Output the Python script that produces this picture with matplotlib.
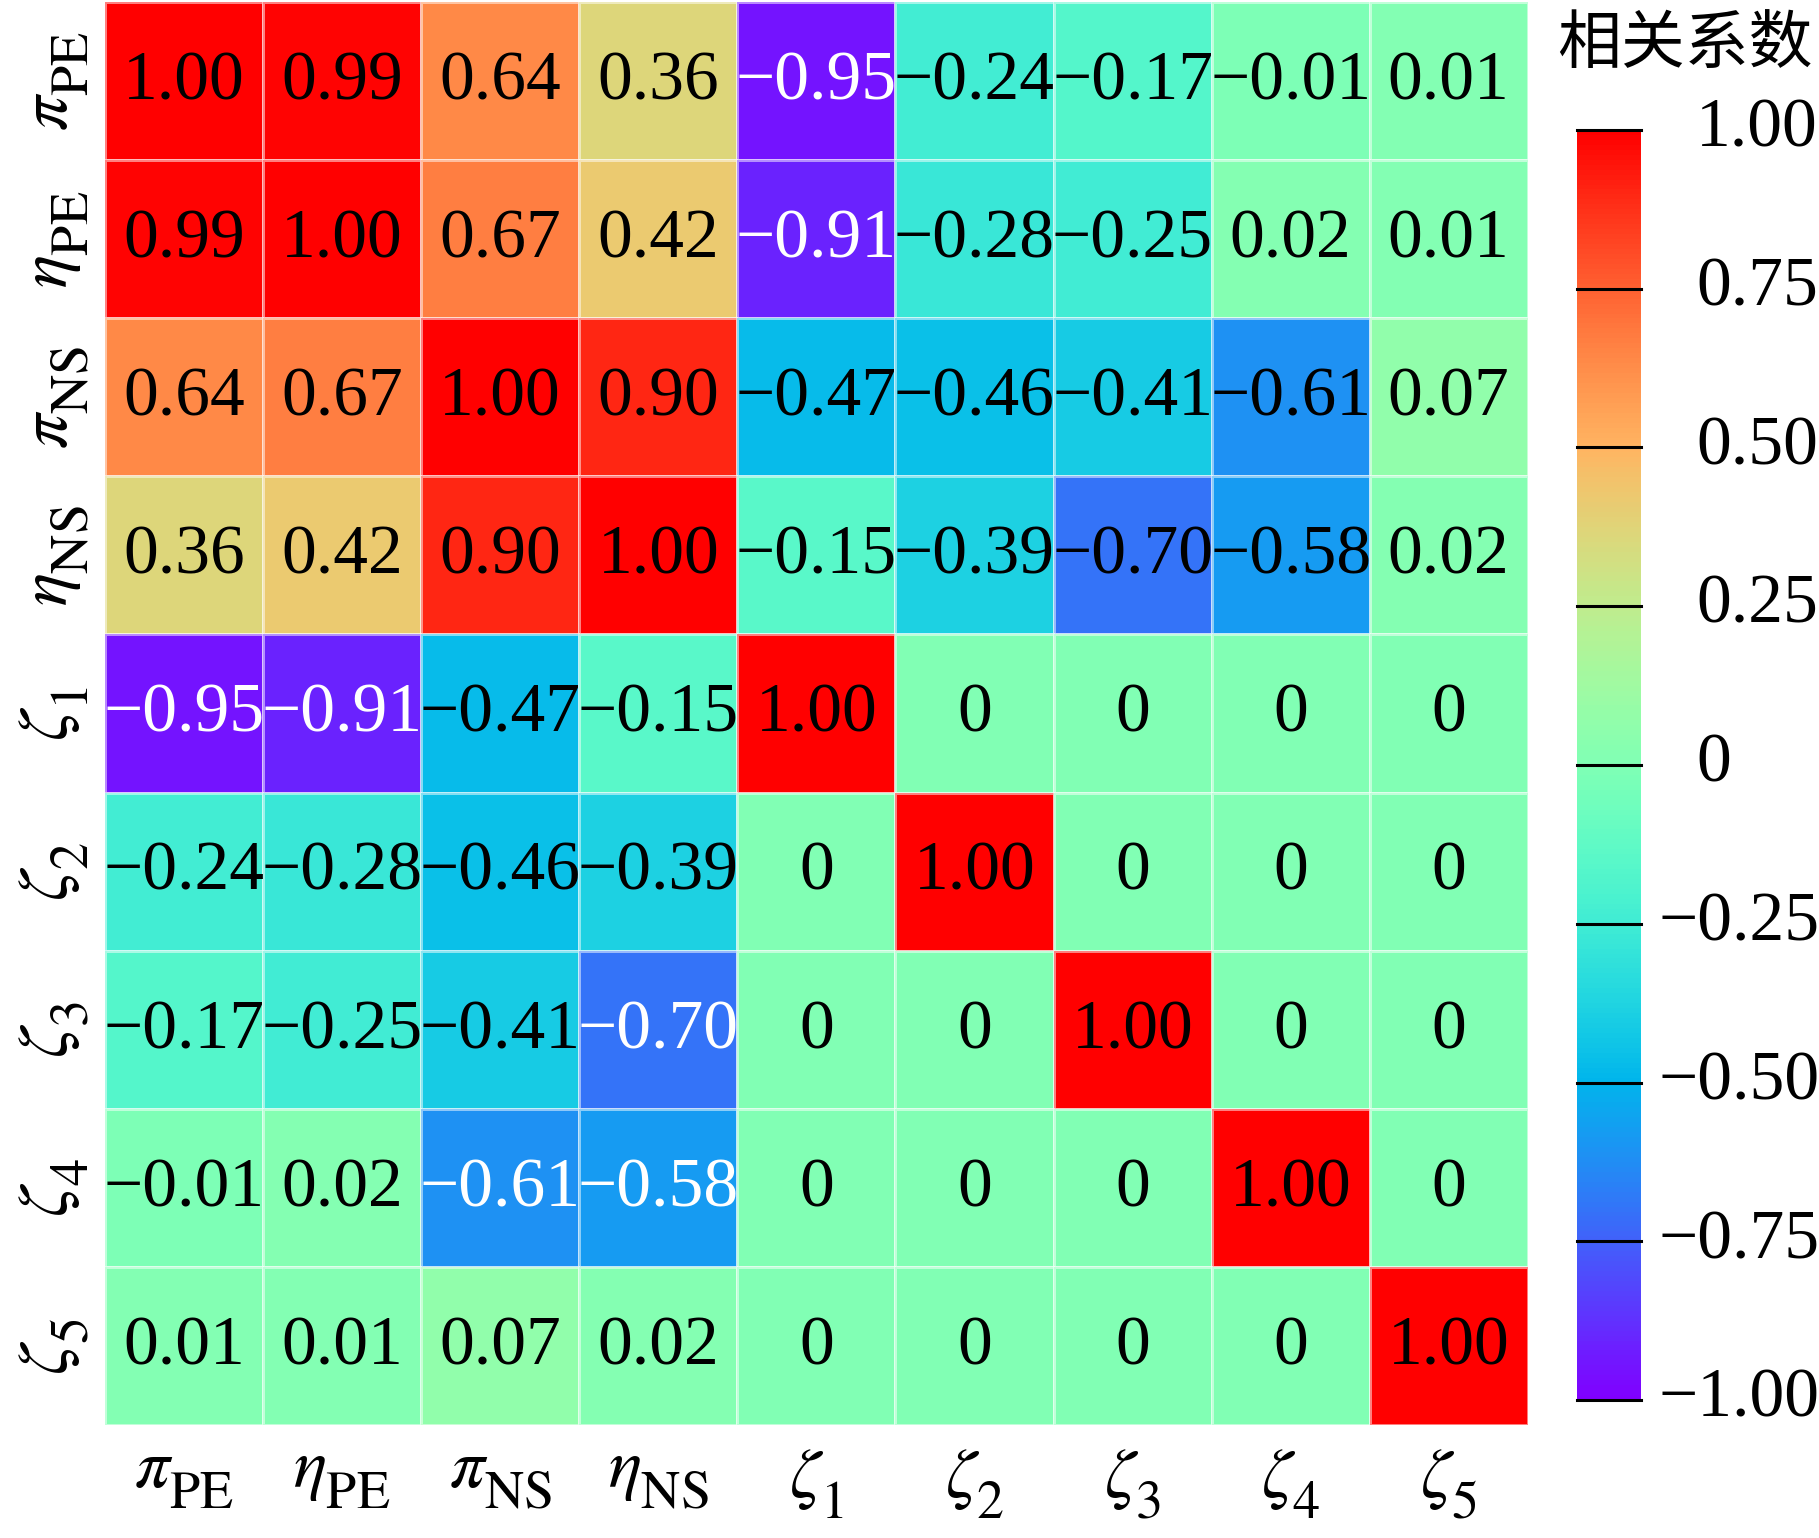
import matplotlib
matplotlib.use("Agg")
import matplotlib.pyplot as plt
import matplotlib.transforms as mtransforms
from matplotlib.colors import ListedColormap
import numpy as np

plt.rcParams['font.family'] = ['Liberation Serif', 'DejaVu Serif']
plt.rcParams['mathtext.fontset'] = 'stix'
plt.rcParams['axes.unicode_minus'] = True

# bigger, lower subscripts like the original labels
try:
    import matplotlib._mathtext as _mt
    _mt.SHRINK_FACTOR = 0.78
    _mt.STIXFontConstants.sub1 = 0.7
    _mt.STIXFontConstants.sub2 = 0.7
except Exception:
    pass

# Data
labels = [r'$\pi_{\mathrm{PE}}$', r'$\eta_{\mathrm{PE}}$', r'$\pi_{\mathrm{NS}}$', r'$\eta_{\mathrm{NS}}$',
          r'$\zeta_1$', r'$\zeta_2$', r'$\zeta_3$', r'$\zeta_4$', r'$\zeta_5$']
row_pi_pe = [1.00, 0.99, 0.64, 0.36, -0.95, -0.24, -0.17, -0.01, 0.01]
row_eta_pe = [0.99, 1.00, 0.67, 0.42, -0.91, -0.28, -0.25, 0.02, 0.01]
row_pi_ns = [0.64, 0.67, 1.00, 0.90, -0.47, -0.46, -0.41, -0.61, 0.07]
row_eta_ns = [0.36, 0.42, 0.90, 1.00, -0.15, -0.39, -0.70, -0.58, 0.02]
row_z1 = [-0.95, -0.91, -0.47, -0.15, 1.00, 0, 0, 0, 0]
row_z2 = [-0.24, -0.28, -0.46, -0.39, 0, 1.00, 0, 0, 0]
row_z3 = [-0.17, -0.25, -0.41, -0.70, 0, 0, 1.00, 0, 0]
row_z4 = [-0.01, 0.02, -0.61, -0.58, 0, 0, 0, 1.00, 0]
row_z5 = [0.01, 0.01, 0.07, 0.02, 0, 0, 0, 0, 1.00]
cbar_ticks = [-1.00, -0.75, -0.50, -0.25, 0, 0.25, 0.50, 0.75, 1.00]

corr = np.array([row_pi_pe, row_eta_pe, row_pi_ns, row_eta_ns,
                 row_z1, row_z2, row_z3, row_z4, row_z5])
n = len(labels)

# rainbow-like colormap (purple -> cyan -> mint -> orange -> red)
t = np.linspace(0, 1, 256)
cols = np.stack([np.clip(np.abs(2 * t - 0.5), 0, 1),
                 np.sin(np.pi * t),
                 np.cos(np.pi * t / 2)], axis=1)
cmap = ListedColormap(cols)


def fmt(v):
    if v == 0:
        return "0"
    return f"{v:.2f}".replace("-", "\u2212")


fig = plt.figure(figsize=(18.19, 15.38), dpi=100)
ax = fig.add_axes([0.0577, 0.0735, 0.7822, 0.9252])
mesh = ax.pcolormesh(np.arange(n + 1), np.arange(n + 1), corr, cmap=cmap, vmin=-1, vmax=1,
                     edgecolors=(1, 1, 1, 0.5), linewidth=0.8)
ax.set_xlim(0, n)
ax.set_ylim(n, 0)

for i in range(n):
    for j in range(n):
        v = corr[i, j]
        white = (v < -0.9) or (i > j and v < -0.5)
        ax.text(j + 0.5, i + 0.51, fmt(v), ha='center', va='center', fontsize=50,
                color='white' if white else 'black')

ax.set_xticks(np.arange(n) + 0.5)
ax.set_xticklabels(labels, fontsize=50)
ax.set_yticks(np.arange(n) + 0.5)
ax.set_yticklabels(labels, fontsize=50, rotation=90, va='center')
ax.tick_params(length=0)
ax.tick_params(axis='x', pad=16)
ax.tick_params(axis='y', pad=10)
for s in ax.spines.values():
    s.set_visible(False)

# colorbar
cax = fig.add_axes([0.8670, 0.0897, 0.0352, 0.8258])
cb = fig.colorbar(mesh, cax=cax)
cb.outline.set_visible(False)
cb.set_ticks([])
trans = mtransforms.blended_transform_factory(cax.transAxes, cax.transData)
for v in cbar_ticks:
    cax.axhline(v, color='black', linewidth=2.2, clip_on=False)
    if v < 0:
        cax.text(1.27, v, fmt(v), transform=trans, ha='left', va='center', fontsize=50)
    else:
        cax.text(1.86, v, fmt(v), transform=trans, ha='left', va='center', fontsize=50)

fig.text(0.926, 0.971, "相关系数", ha='center', va='center', fontsize=46,
         family=['Noto Sans CJK SC', 'DejaVu Sans'])

fig.savefig("out.png", dpi=100)
